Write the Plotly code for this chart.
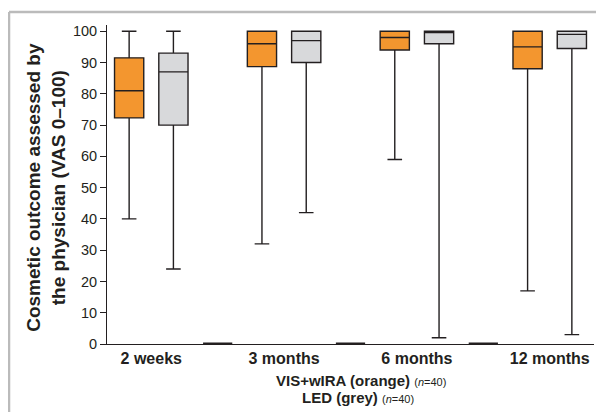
import plotly.graph_objects as go

# ---- data ----
categories = ["2 weeks", "3 months", "6 months", "12 months"]

orange_upper = [100, 100, 100, 100]
orange_q3 = [91.5, 100, 100, 100]
orange_median = [81, 96, 98, 95]
orange_q1 = [72.3, 88.7, 94, 88]
orange_lower = [40, 32, 59, 17]

grey_upper = [100, 100, 100, 100]
grey_q3 = [93, 100, 100, 100]
grey_median = [87, 97, 99.6, 99]
grey_q1 = [70, 90, 96, 94.5]
grey_lower = [24, 42, 2, 3]

spacer_values = [0, 0, 0]

y_ticks = [0, 10, 20, 30, 40, 50, 60, 70, 80, 90, 100]

# ---- positions derived from category index ----
n = len(categories)
orange_x = [3 * i for i in range(n)]
grey_x = [3 * i + 1 for i in range(n)]
spacer_x = [3 * i + 2 for i in range(n - 1)]
tick_x = [3 * i + 0.5 for i in range(n)]

ORANGE = "#F3962F"
GREY = "#D8D9DB"
DARK = "#231F20"
FONT = "Liberation Sans, Arial, sans-serif"

fig = go.Figure()

fig.add_trace(go.Box(
    x=orange_x, q1=orange_q1, median=orange_median, q3=orange_q3,
    lowerfence=orange_lower, upperfence=orange_upper,
    fillcolor=ORANGE, line=dict(color=DARK, width=1.4),
    width=0.66, whiskerwidth=0.5, boxpoints=False, showlegend=False,
    hoverinfo="skip"))

fig.add_trace(go.Box(
    x=grey_x, q1=grey_q1, median=grey_median, q3=grey_q3,
    lowerfence=grey_lower, upperfence=grey_upper,
    fillcolor=GREY, line=dict(color=DARK, width=1.4),
    width=0.66, whiskerwidth=0.5, boxpoints=False, showlegend=False,
    hoverinfo="skip"))

fig.add_trace(go.Box(
    x=spacer_x, q1=spacer_values, median=spacer_values, q3=spacer_values,
    lowerfence=spacer_values, upperfence=spacer_values,
    fillcolor=DARK, line=dict(color=DARK, width=3),
    width=0.66, whiskerwidth=0, boxpoints=False, showlegend=False,
    hoverinfo="skip"))

fig.update_layout(
    width=596, height=404,
    margin=dict(l=99, r=10, t=17, b=68),
    paper_bgcolor="white", plot_bgcolor="white",
    font=dict(family=FONT, color=DARK),
    xaxis=dict(
        range=[-0.5, 10.5], showgrid=False, zeroline=False,
        showline=True, linecolor=DARK, linewidth=1,
        tickmode="array", tickvals=tick_x, ticktext=categories,
        ticks="", tickfont=dict(size=16, family=FONT, color=DARK, weight="bold"),
    ),
    yaxis=dict(
        range=[0, 102], showgrid=False, zeroline=False,
        showline=True, linecolor=DARK, linewidth=1,
        tickmode="array", tickvals=y_ticks,
        ticks="outside", ticklen=6, tickcolor=DARK, tickwidth=1,
        tickfont=dict(size=14.5, family=FONT, color=DARK),
    ),
    annotations=[
        dict(text="<b>Cosmetic outcome assessed by<br>the physician (VAS 0–100)</b>",
             xref="paper", yref="paper", x=-0.125, y=0.49,
             xanchor="center", yanchor="middle", textangle=-90,
             showarrow=False, font=dict(size=19, family=FONT, color=DARK)),
        dict(text="<b>VIS+wIRA (orange)</b> <span style='font-size:11px'>(<i>n</i>=40)</span>",
             xref="paper", yref="paper", x=0.5216, y=-0.115,
             xanchor="center", yanchor="middle",
             showarrow=False, font=dict(size=15, family=FONT, color=DARK)),
        dict(text="<b>LED (grey)</b> <span style='font-size:11px'>(<i>n</i>=40)</span>",
             xref="paper", yref="paper", x=0.5144, y=-0.168,
             xanchor="center", yanchor="middle",
             showarrow=False, font=dict(size=15, family=FONT, color=DARK)),
    ],
    shapes=[
        dict(type="line", xref="paper", yref="paper",
             x0=-0.2012, x1=1.05, y0=1.0408, y1=1.0408,
             line=dict(color="#BBBBBB", width=2.5)),
        dict(type="line", xref="paper", yref="paper",
             x0=-0.2012, x1=-0.2012, y0=1.0408, y1=-0.25,
             line=dict(color="#BBBBBB", width=2.5)),
    ],
)

fig.write_html("out.html")
